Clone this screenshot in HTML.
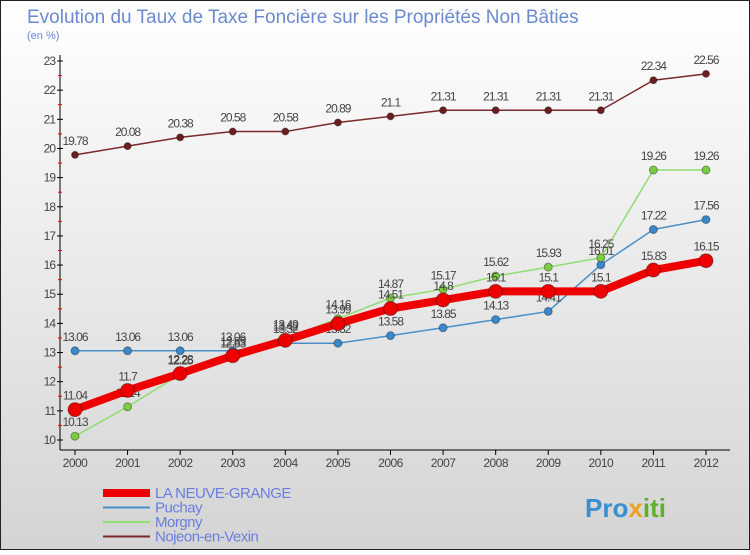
<!DOCTYPE html>
<html><head><meta charset="utf-8"><style>
body{margin:0}
svg text{font-family:"Liberation Sans",sans-serif}
</style></head><body>
<svg id="c" width="750" height="550" xmlns="http://www.w3.org/2000/svg">
<defs><linearGradient id="bg" x1="0" y1="0" x2="0" y2="1"><stop offset="0" stop-color="#ffffff"/><stop offset="1" stop-color="#d4d4d4"/></linearGradient></defs>
<rect x="0.5" y="0.5" width="749" height="549" fill="url(#bg)" stroke="#222"/>
<text x="27" y="23" font-size="19" fill="#6a8ad0">Evolution du Taux de Taxe Foncière sur les Propriétés Non Bâties</text>
<text x="27" y="39" font-size="11" fill="#6a8ad0">(en %)</text>
<g id="axes"></g><g id="series"></g><g id="legend"></g>
<text x="585" y="517" font-size="26" font-weight="bold"><tspan fill="#3a8fd0">Pro</tspan><tspan fill="#f0a020">x</tspan><tspan fill="#60b030">iti</tspan></text>
</svg>
<script>
const years=[2000,2001,2002,2003,2004,2005,2006,2007,2008,2009,2010,2011,2012];
const yTicks=[10,11,12,13,14,15,16,17,18,19,20,21,22,23];
const lng=[11.04,11.7,12.28,12.89,13.42,13.99,14.51,14.8,15.1,15.1,15.1,15.83,16.15];
const puchay=[13.06,13.06,13.06,13.06,13.32,13.32,13.58,13.85,14.13,14.41,16.01,17.22,17.56];
const morgny=[10.13,11.14,12.25,12.83,13.49,14.16,14.87,15.17,15.62,15.93,16.25,19.26,19.26];
const nojeon=[19.78,20.08,20.38,20.58,20.58,20.89,21.1,21.31,21.31,21.31,21.31,22.34,22.56];
const NS="http://www.w3.org/2000/svg";
const xs=i=>75+i*(706-75)/(years.length-1);
const ys=v=>440-(v-10)*(440-61)/13;
function mk(p,t,a){const e=document.createElementNS(NS,t);for(const k in a)e.setAttribute(k,a[k]);p.appendChild(e);return e;}
const ax=document.getElementById('axes');
let yl=mk(ax,'line',{x1:60,y1:55,x2:60,y2:450,stroke:'#000'});


let xl=mk(ax,'line',{x1:60,y1:450,x2:730,y2:450,stroke:'#000'});


yTicks.forEach(v=>{
 mk(ax,'line',{x1:57,y1:ys(v),x2:63,y2:ys(v),stroke:'#000'});
 if(v<23)mk(ax,'line',{x1:58,y1:ys(v+0.5),x2:62,y2:ys(v+0.5),stroke:'#e00'});
 const t=mk(ax,'text',{x:55,y:ys(v)+4,'font-size':12,'text-anchor':'end',fill:'#444','letter-spacing':'-1'});
 t.textContent=v;
 
 
});
years.forEach((y,i)=>{
 mk(ax,'line',{x1:xs(i),y1:450,x2:xs(i),y2:455,stroke:'#000'});
 const t=mk(ax,'text',{x:xs(i),y:467,'font-size':12,'text-anchor':'middle',fill:'#444','letter-spacing':'-0.5'});
 t.textContent=y;
 
 
});
const sg=document.getElementById('series');
function draw(name,data,color,w,r,dot){
 const g=mk(sg,'g',{});
 
 
 mk(g,'polyline',{points:data.map((v,i)=>xs(i)+','+ys(v)).join(' '),fill:'none',stroke:color,'stroke-width':w,'stroke-linejoin':'round'});
 data.forEach((v,i)=>{
  const c=mk(g,'circle',{cx:xs(i),cy:ys(v),r:r,fill:dot,stroke:'rgba(0,0,0,0.35)','stroke-width':1});
  
  
  const t=mk(g,'text',{x:xs(i),y:ys(v)-10,'font-size':12,'text-anchor':'middle',fill:'#444','letter-spacing':'-1'});
  t.textContent=v;
  
  
 });
}
draw('nojeon',nojeon,'#7a2a2a',1.5,3.5,'#6b1f1f');
draw('puchay',puchay,'#4a90c8',1.5,4,'#3a88cc');
draw('morgny',morgny,'#90dd70',1.5,4,'#7acc40');
draw('la-neuve-grange',lng,'#ee0000',8,7,'#ee0000');
const lg=document.getElementById('legend');
[['LA NEUVE-GRANGE','#ee0000',8],['Puchay','#4a90c8',2],['Morgny','#90dd70',2],['Nojeon-en-Vexin','#7a2a2a',2]].forEach((e,i)=>{
 const y=493+i*14.5;
 const g=mk(lg,'g',{});
 
 
 mk(g,'line',{x1:103,y1:y,x2:150,y2:y,stroke:e[1],'stroke-width':e[2]});
 const t=mk(g,'text',{x:155,y:y+5,'font-size':15,fill:'#6a7ee0','letter-spacing':'-0.5'});
 t.textContent=e[0];
});
</script>
</body></html>
